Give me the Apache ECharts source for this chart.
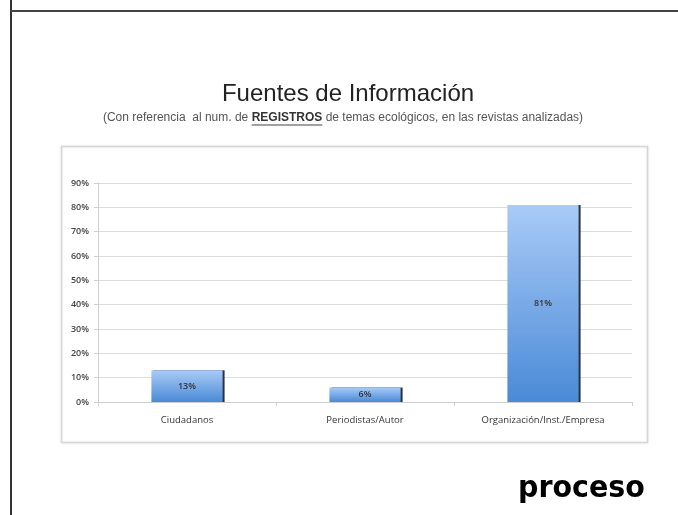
<!DOCTYPE html>
<html>
<head>
<meta charset="utf-8">
<script src="https://cdn.jsdelivr.net/npm/echarts@6/dist/echarts.min.js"></script>
<style>
html,body{margin:0;padding:0;background:#fff;}
#c{width:678px;height:515px;}
</style>
</head>
<body>
<div id="c"></div>
<script>
const categories = ['Ciudadanos', 'Periodistas/Autor', 'Organización/Inst./Empresa'];
const values = [13, 6, 81];
const yTicks = [0, 10, 20, 30, 40, 50, 60, 70, 80, 90];
const titleText = 'Fuentes de Información';
const subParts = ['(Con referencia  al num. de ', 'REGISTROS', ' de temas ecológicos, en las revistas analizadas)'];

// measure subtitle pieces so the underline sits under the middle word
const mctx = document.createElement('canvas').getContext('2d');
mctx.font = '12px "Liberation Sans"';
const w0 = mctx.measureText(subParts[0]).width;
const w2 = mctx.measureText(subParts[2]).width;
mctx.font = 'bold 12px "Liberation Sans"';
const w1 = mctx.measureText(subParts[1]).width;
const subCx = 343, subY = 112;
const sx0 = subCx - (w0 + w1 + w2) / 2;

const chart = echarts.init(document.getElementById('c'), null, {renderer: 'canvas'});
chart.setOption({
  animation: false,
  backgroundColor: '#ffffff',
  graphic: [
    {type: 'line', shape: {x1: 11, y1: 0, x2: 11, y2: 515}, style: {stroke: '#333', lineWidth: 2}},
    {type: 'line', shape: {x1: 10, y1: 11, x2: 678, y2: 11}, style: {stroke: '#444', lineWidth: 2}},
    {type: 'rect', z: -1, shape: {x: 61.5, y: 146.5, width: 586, height: 296},
      style: {fill: '#fff', stroke: '#d6d6d6', lineWidth: 1.5, shadowColor: 'rgba(0,0,0,0.08)', shadowBlur: 3}},
    {type: 'text', x: 348, y: 82,
      style: {text: titleText, fontFamily: 'Liberation Sans', fontSize: 24, fill: '#222', textAlign: 'center'}},
    {type: 'text', x: sx0, y: subY,
      style: {text: subParts[0], fontFamily: 'Liberation Sans', fontSize: 12, fill: '#555'}},
    {type: 'text', x: sx0 + w0, y: subY,
      style: {text: subParts[1], fontFamily: 'Liberation Sans', fontSize: 12, fontWeight: 'bold', fill: '#333'}},
    {type: 'text', x: sx0 + w0 + w1, y: subY,
      style: {text: subParts[2], fontFamily: 'Liberation Sans', fontSize: 12, fill: '#555'}},
    {type: 'line', shape: {x1: sx0 + w0, y1: subY + 13, x2: sx0 + w0 + w1, y2: subY + 13}, style: {stroke: '#444', lineWidth: 1}},
    {type: 'text', x: 518, y: 473, scaleX: 0.92,
      style: {text: 'proceso', fontFamily: 'DejaVu Sans', fontWeight: 'bold', fontSize: 31, fill: '#000'}}
  ],
  grid: {left: 98, right: 46, top: 183, bottom: 113},
  xAxis: {
    type: 'category',
    data: categories,
    axisLine: {lineStyle: {color: '#cfcfcf'}},
    axisTick: {show: true, length: 4, lineStyle: {color: '#cfcfcf'}},
    axisLabel: {margin: 13, fontFamily: 'Open Sans', fontSize: 9.5, color: '#333'}
  },
  yAxis: {
    type: 'value',
    min: 0, max: 90, interval: 10,
    axisLine: {show: true, lineStyle: {color: '#cfcfcf'}},
    axisTick: {show: true, length: 4, lineStyle: {color: '#cfcfcf'}},
    splitLine: {lineStyle: {color: '#dcdcdc'}},
    axisLabel: {margin: 9, fontFamily: 'Open Sans', fontSize: 9, fontWeight: 600, color: '#444',
      formatter: v => (yTicks.indexOf(v) >= 0 ? v + '%' : '')}
  },
  series: [{
    type: 'bar',
    data: values,
    barWidth: '40%',
    itemStyle: {
      color: new echarts.graphic.LinearGradient(0, 0, 0, 1, [
        {offset: 0, color: '#a9cbf7'},
        {offset: 1, color: '#4a8ad6'}
      ]),
      shadowColor: '#2b3340', shadowOffsetX: 2, shadowOffsetY: 0, shadowBlur: 0
    },
    label: {
      show: true, position: 'inside', fontFamily: 'Open Sans', fontSize: 9, fontWeight: 600, color: '#333',
      formatter: p => p.value + '%'
    }
  }]
});
</script>
</body>
</html>
